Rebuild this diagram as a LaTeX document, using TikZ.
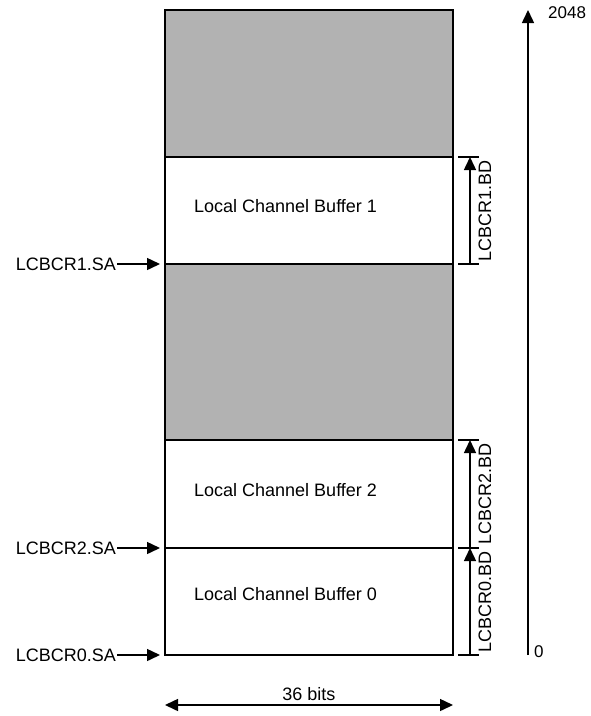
\documentclass[tikz,border=0pt]{standalone}
\usepackage{fontspec}
\setmainfont{Liberation Sans}
\usetikzlibrary{arrows.meta, positioning}

\begin{document}
\begin{tikzpicture}[x=1pt, y=-1pt, >={Triangle[length=13pt, width=12pt]},
  region/.style={rectangle, draw, line width=1.6pt, minimum width=288pt,
                 inner sep=0pt, outer sep=0pt, anchor=north west},
  unused/.style={region, fill=black!30},
  buflabel/.style={anchor=west, font=\fontsize{18}{20}\selectfont, inner sep=0pt},
  reglabel/.style={font=\fontsize{18}{20}\selectfont, inner sep=1pt},
  arrow/.style={->, line width=1.5pt},
  tick/.style={line width=1.5pt}
]
  \useasboundingbox (0,0) rectangle (590,716);

  % memory blocks, top to bottom
  \node[unused, minimum height=147pt] (free1) at (165,10) {};
  \node[region, minimum height=107pt] (buf1) at (165,157) {};
  \node[unused, minimum height=176pt] (free2) at (165,264) {};
  \node[region, minimum height=108pt] (buf2) at (165,440) {};
  \node[region, minimum height=107pt] (buf0) at (165,548) {};

  \node[buflabel] (txt1) at ([xshift=29pt, yshift=4pt]buf1.west) {Local Channel Buffer 1};
  \node[buflabel] (txt2) at ([xshift=29pt, yshift=4pt]buf2.west) {Local Channel Buffer 2};
  \node[buflabel] (txt0) at ([xshift=29pt, yshift=7pt]buf0.west) {Local Channel Buffer 0};

  % start addresses
  \foreach \b/\t in {buf1/LCBCR1.SA, buf2/LCBCR2.SA, buf0/LCBCR0.SA} {
    \node[reglabel, anchor=east] (\b-sa) at ([xshift=-48pt]\b.south west) {\t};
    \draw[arrow] (\b-sa) -- ([xshift=-5pt]\b.south west);
  }

  % buffer depths
  \foreach \b/\t in {buf1/LCBCR1.BD, buf2/LCBCR2.BD, buf0/LCBCR0.BD} {
    \draw[tick] ([xshift=5pt]\b.north east) -- ++(21,0);
    \draw[tick] ([xshift=5pt]\b.south east) -- ++(21,0);
    \draw[arrow] ([xshift=17pt]\b.south east) -- ([xshift=17pt]\b.north east);
    \node[reglabel, rotate=90] (\b-bd) at ([xshift=32pt]\b.east) {\t};
  }

  % address axis
  \coordinate (axbot) at (528,655);
  \coordinate (axtop) at (528,10);
  \draw[arrow] (axbot) -- (axtop);
  \node[reglabel, anchor=west, font=\fontsize{17}{19}\selectfont] (hi) at (547,13) {2048};
  \node[reglabel, anchor=west, font=\fontsize{17}{19}\selectfont] (lo) at (533,652) {0};

  % width
  \draw[<->, line width=1.5pt] ([yshift=-50pt]buf0.south west) -- ([yshift=-50pt]buf0.south east)
    node[midway, above=3pt, reglabel] (width) {36 bits};
\end{tikzpicture}
\end{document}
